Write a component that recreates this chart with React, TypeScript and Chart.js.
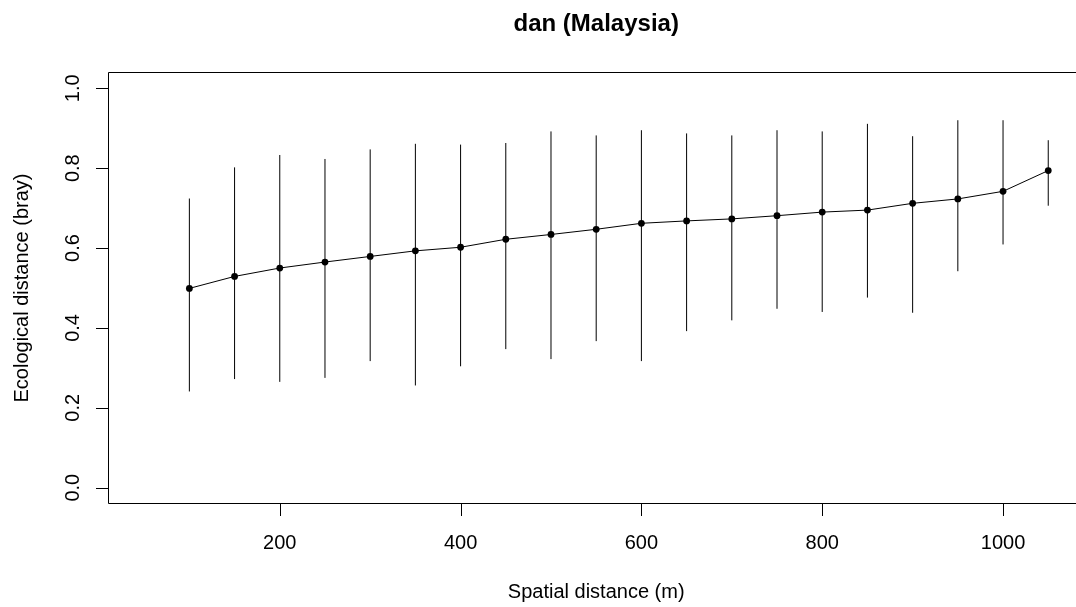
import { useEffect, useRef } from "react";
import { Chart, registerables } from "chart.js";

Chart.register(...registerables);

// ---- data ----
const distances = [100, 150, 200, 250, 300, 350, 400, 450, 500, 550, 600, 650, 700, 750, 800, 850, 900, 950, 1000, 1050];
const meanEco = [0.499, 0.529, 0.550, 0.565, 0.579, 0.593, 0.602, 0.622, 0.634, 0.647, 0.662, 0.668, 0.673, 0.681, 0.690, 0.695, 0.712, 0.723, 0.742, 0.794];
const upperEco = [0.724, 0.802, 0.833, 0.823, 0.847, 0.861, 0.859, 0.863, 0.892, 0.882, 0.895, 0.887, 0.882, 0.895, 0.892, 0.911, 0.880, 0.920, 0.920, 0.870];
const lowerEco = [0.241, 0.272, 0.265, 0.275, 0.317, 0.256, 0.304, 0.347, 0.322, 0.367, 0.317, 0.392, 0.419, 0.448, 0.440, 0.476, 0.438, 0.542, 0.609, 0.706];

const xTickValues = [200, 400, 600, 800, 1000];
const xTickLabels = ["200", "400", "600", "800", "1000"];
const yTickValues = [0, 0.2, 0.4, 0.6, 0.8, 1.0];
const yTickLabels = ["0.0", "0.2", "0.4", "0.6", "0.8", "1.0"];

const chartTitle = "dan (Malaysia)";
const xAxisTitle = "Spatial distance (m)";
const yAxisTitle = "Ecological distance (bray)";

const X_MIN = 10;
const X_MAX = 1090;
const Y_MIN = -0.04;
const Y_MAX = 1.04;

const FONT = "'Liberation Sans', Arial, Helvetica, sans-serif";

const rAxesPlugin = {
  id: "rAxes",
  beforeDraw(chart: any) {
    const ctx = chart.ctx;
    ctx.save();
    ctx.fillStyle = "#ffffff";
    ctx.fillRect(0, 0, chart.width, chart.height);
    ctx.restore();
  },
  afterDraw(chart: any) {
    const ctx = chart.ctx;
    const { left, right, top, bottom } = chart.chartArea;
    const xs = chart.scales.x;
    const ys = chart.scales.y;
    const L = Math.round(left) + 0.5;
    const T = Math.floor(top) + 0.5;
    const B = Math.floor(bottom) + 0.5;
    const R = Math.round(right) - 0.5;
    ctx.save();
    ctx.strokeStyle = "#000000";
    ctx.lineWidth = 1;
    // box
    ctx.beginPath();
    ctx.moveTo(L, T);
    ctx.lineTo(R, T);
    ctx.lineTo(R, B);
    ctx.lineTo(L, B);
    ctx.closePath();
    ctx.stroke();
    // x ticks
    ctx.beginPath();
    xTickValues.forEach((v) => {
      const px = Math.round(xs.getPixelForValue(v)) + 0.5;
      ctx.moveTo(px, B);
      ctx.lineTo(px, B + 12.5);
    });
    // y ticks
    yTickValues.forEach((v) => {
      const py = Math.round(ys.getPixelForValue(v)) + 0.5;
      ctx.moveTo(L, py);
      ctx.lineTo(L - 12.5, py);
    });
    ctx.stroke();

    ctx.fillStyle = "#000000";
    ctx.font = `20px ${FONT}`;
    ctx.textAlign = "center";
    ctx.textBaseline = "alphabetic";
    xTickValues.forEach((v, i) => {
      ctx.fillText(xTickLabels[i], xs.getPixelForValue(v), 548.5);
    });
    yTickValues.forEach((v, i) => {
      ctx.save();
      ctx.translate(79, ys.getPixelForValue(v));
      ctx.rotate(-Math.PI / 2);
      ctx.fillText(yTickLabels[i], 0, 0);
      ctx.restore();
    });
    const cx = (left + right) / 2;
    const cy = (top + bottom) / 2;
    ctx.fillText(xAxisTitle, cx, 598);
    ctx.save();
    ctx.translate(28, cy);
    ctx.rotate(-Math.PI / 2);
    ctx.fillText(yAxisTitle, 0, 0);
    ctx.restore();
    ctx.font = `bold 24px ${FONT}`;
    ctx.fillText(chartTitle, cx, 31);
    ctx.restore();
  },
};

export default function App() {
  const canvasRef = useRef<HTMLCanvasElement | null>(null);

  useEffect(() => {
    if (!canvasRef.current) return;
    const errorBarSets = distances.map((d, i) => ({
      label: `range ${d}`,
      data: [
        { x: d, y: lowerEco[i] },
        { x: d, y: upperEco[i] },
      ],
      borderColor: "#000000",
      borderWidth: 1,
      pointRadius: 0,
      pointHoverRadius: 0,
      fill: false,
      order: 2,
    }));
    const chart = new Chart(canvasRef.current, {
      type: "line",
      data: {
        datasets: [
          {
            label: "mean",
            data: distances.map((d, i) => ({ x: d, y: meanEco[i] })),
            borderColor: "#000000",
            borderWidth: 1,
            pointRadius: 3.4,
            pointBackgroundColor: "#000000",
            pointBorderColor: "#000000",
            pointBorderWidth: 0,
            fill: false,
            tension: 0,
            order: 1,
          },
          ...errorBarSets,
        ],
      },
      options: {
        animation: false,
        responsive: false,
        devicePixelRatio: 1,
        layout: {
          padding: { left: 108, top: 72.3, right: 15.6, bottom: 103.3 },
        },
        plugins: {
          legend: { display: false },
          title: { display: false },
          tooltip: { enabled: false },
        },
        scales: {
          x: { type: "linear", min: X_MIN, max: X_MAX, display: false },
          y: { type: "linear", min: Y_MIN, max: Y_MAX, display: false },
        },
        events: [],
      },
      plugins: [rAxesPlugin],
    });
    return () => chart.destroy();
  }, []);

  return (
    <div
      style={{
        position: "fixed",
        left: 0,
        top: 0,
        width: 1076,
        height: 607,
        overflow: "hidden",
        background: "#ffffff",
      }}
    >
      <canvas ref={canvasRef} width={1100} height={607} style={{ display: "block" }} />
    </div>
  );
}
